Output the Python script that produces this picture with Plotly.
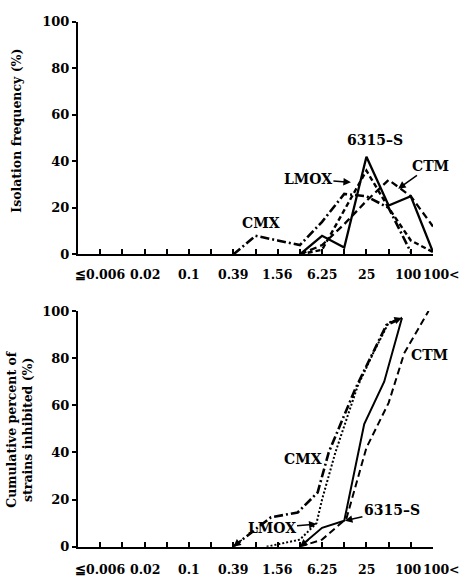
import plotly.graph_objects as go

# ---- data ----
# x positions are dilution-step indices (1 = <=0.006 ... 15 = 100, 16 = >100)
tick_pos = list(range(1, 17))
tick_labels = {1: "≦0.006", 3: "0.02", 5: "0.1", 7: "0.39", 9: "1.56",
               11: "6.25", 13: "25", 15: "100", 16: "100<"}
y_ticks = [0, 20, 40, 60, 80, 100]

# Isolation frequency (%)
cmx_top_x = [7, 8, 9, 10, 11, 12, 13, 14, 15]
cmx_top_y = [0, 8, 6, 4, 14, 26, 25, 20, 1]
lmox_top_x = [10, 11, 12, 13, 14, 15, 16]
lmox_top_y = [0, 2, 19, 36, 20, 6, 1]
s6315_top_x = [10, 11, 12, 13, 14, 15, 16]
s6315_top_y = [0, 8, 3, 42, 21, 25, 1]
ctm_top_x = [10, 11, 12, 13, 14, 15, 16]
ctm_top_y = [0, 4, 13, 23, 32, 25, 12]

# Cumulative percent of strains inhibited (%)
cmx_bot_x = [7, 8.7, 9.9, 10.8, 11.3, 12.5, 13.9, 14.6]
cmx_bot_y = [0, 12.5, 14.5, 23, 40, 67, 94, 97]
lmox_bot_x = [8.5, 10.0, 10.75, 11.0, 11.6, 12.6, 13.3, 14.0, 14.6]
lmox_bot_y = [0, 3, 10, 20, 40, 68, 82, 95, 97]
s6315_bot_x = [10, 11, 12, 12.9, 13.8, 14.6]
s6315_bot_y = [0, 8, 11, 52, 70, 97]
ctm_bot_x = [10, 11, 12.1, 13.0, 14.0, 14.7, 15.8]
ctm_bot_y = [0, 3, 12, 42, 61, 82, 100]

W, H = 463, 581
FONT = "DejaVu Serif"

fig = go.Figure()

styles = {
    "CMX": dict(dash="9px,3px,2px,3px", width=2.6),
    "LMOX_top": dict(dash="5px,3px", width=2.4),
    "LMOX_bot": dict(dash="2px,2px", width=2),
    "6315-S_top": dict(dash="solid", width=2.3),
    "6315-S": dict(dash="solid", width=2),
    "CTM_top": dict(dash="7px,4px", width=2.3),
    "CTM": dict(dash="7px,4px", width=2),
}

def add(x, y, key, xa, ya):
    st = styles[key]
    fig.add_trace(go.Scatter(x=x, y=y, mode="lines", xaxis=xa, yaxis=ya,
                             line=dict(color="black", width=st["width"], dash=st["dash"]),
                             showlegend=False, hoverinfo="skip"))

add(cmx_top_x, cmx_top_y, "CMX", "x", "y")
add(lmox_top_x, lmox_top_y, "LMOX_top", "x", "y")
add(s6315_top_x, s6315_top_y, "6315-S_top", "x", "y")
add(ctm_top_x, ctm_top_y, "CTM_top", "x", "y")

add(cmx_bot_x, cmx_bot_y, "CMX", "x2", "y2")
add(lmox_bot_x, lmox_bot_y, "LMOX_bot", "x2", "y2")
add(s6315_bot_x, s6315_bot_y, "6315-S", "x2", "y2")
add(ctm_bot_x, ctm_bot_y, "CTM", "x2", "y2")

xdom = [78 / W, 433 / W]
ydom_top = [1 - 254 / H, 1 - 15 / H]
ydom_bot = [1 - 554 / H, 1 - 312 / H]

xcommon = dict(range=[0, 16], showline=True, linecolor="black", linewidth=2,
               ticks="inside", ticklen=5, tickwidth=1.5, tickcolor="black",
               tickvals=tick_pos, showticklabels=False, showgrid=False,
               zeroline=False, domain=xdom, fixedrange=True)
ycommon = dict(range=[0, 100], showline=True, linecolor="black", linewidth=2,
               ticks="outside", ticklen=4, tickwidth=1.5, tickcolor="black",
               tickvals=y_ticks, showgrid=False, zeroline=False,
               tickfont=dict(family=FONT, size=13, color="black", weight="bold"),
               fixedrange=True)

fig.update_layout(
    width=W, height=H, margin=dict(l=0, r=0, t=0, b=0),
    paper_bgcolor="white", plot_bgcolor="white",
    xaxis=dict(anchor="y", **xcommon),
    yaxis=dict(anchor="x", domain=ydom_top, **ycommon),
    xaxis2=dict(anchor="y2", **xcommon),
    yaxis2=dict(anchor="x2", domain=ydom_bot, **ycommon),
)

ann = []
tf = dict(family=FONT, size=12.5, color="black", weight="bold")
for xr, yr, ys in (("x", "y", -11), ("x2", "y2", -13)):
    for p, t in tick_labels.items():
        if t == "100<":
            ann.append(dict(x=1, y=0, xref="paper", yref=yr, text=t, showarrow=False,
                            xanchor="right", yanchor="top", xshift=-1, yshift=ys, font=tf))
        else:
            ann.append(dict(x=p, y=0, xref=xr, yref=yr, text=t, showarrow=False,
                            xanchor="center", yanchor="top", yshift=ys,
                            xshift=-3 if t == "100" else 0, font=tf))

lf = dict(family=FONT, size=14, color="black", weight="bold")
arr = dict(arrowhead=2, arrowsize=1, arrowwidth=1.5, arrowcolor="black")
# top labels
ann += [
    dict(x=13.4, y=49, xref="x", yref="y", text="6315–S", showarrow=False, font=lf),
    dict(x=8.27, y=13.5, xref="x", yref="y", text="CMX", showarrow=False, font=lf),
    dict(x=14.43, y=28.2, xref="x", yref="y", text="CTM", showarrow=True,
         ax=32, ay=-23, font=lf, **arr),
    dict(x=12.3, y=31, xref="x", yref="y", text="LMOX", showarrow=True,
         ax=-43, ay=-3, font=lf, **arr),
]
# bottom labels
ann += [
    dict(x=15.86, y=81.4, xref="x2", yref="y2", text="CTM", showarrow=False, font=lf),
    dict(x=10.15, y=37.4, xref="x2", yref="y2", text="CMX", showarrow=False, font=lf),
    dict(x=12.03, y=11, xref="x2", yref="y2", text="6315–S", showarrow=True,
         ax=47, ay=-11, font=lf, **arr),
    dict(x=10.75, y=9.6, xref="x2", yref="y2", text="LMOX", showarrow=True,
         ax=-45, ay=4, font=lf, **arr),
]
# small arrowheads at curve ends (bottom chart)
small = dict(arrowhead=2, arrowsize=1, arrowwidth=1.5, arrowcolor="black")
ann += [
    dict(x=cmx_bot_x[0], y=cmx_bot_y[0], xref="x2", yref="y2", text="", showarrow=True,
         ax=10, ay=-8, **small),
    dict(x=s6315_bot_x[0], y=s6315_bot_y[0], xref="x2", yref="y2", text="", showarrow=True,
         ax=10, ay=-8, **small),
    dict(x=cmx_bot_x[-1], y=cmx_bot_y[-1], xref="x2", yref="y2", text="", showarrow=True,
         ax=-14, ay=5, **small),
]
# axis titles
af = dict(family=FONT, size=12.5, color="black", weight="bold")
ann += [
    dict(x=17 / W, y=1 - 127 / H, xref="paper", yref="paper", text="Isolation frequency (%)",
         textangle=-90, showarrow=False, xanchor="center", yanchor="middle", font=af),
    dict(x=20 / W, y=1 - 433 / H, xref="paper", yref="paper",
         text="Cumulative percent of<br>strains inhibited (%)",
         textangle=-90, showarrow=False, xanchor="center", yanchor="middle", font=af),
]
fig.update_layout(annotations=ann)

fig.write_html("out.html")
